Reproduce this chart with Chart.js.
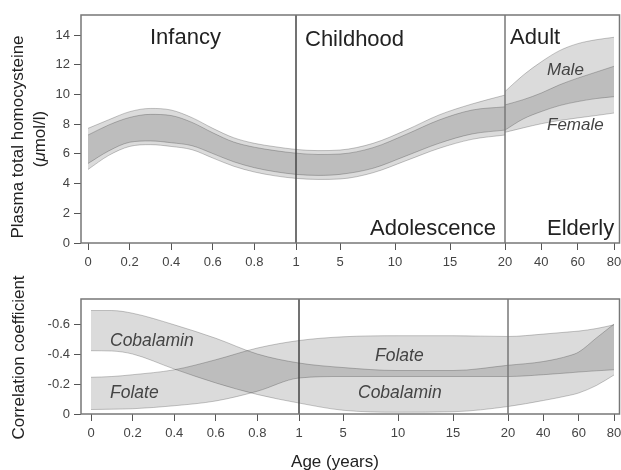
<!DOCTYPE html>
<html>
<head>
<meta charset="utf-8">
<script src="https://cdn.jsdelivr.net/npm/chart.js@4.4.1/dist/chart.umd.min.js"></script>
<style>
  body { margin: 0; background: #fff; }
  #wrap { position: relative; width: 621px; height: 470px; }
  canvas { position: absolute; left: 0; }
</style>
</head>
<body>
<div id="wrap">
  <canvas id="hcy-chart" width="621" height="275" style="top:0px"></canvas>
  <canvas id="corr-chart" width="621" height="195" style="top:275px"></canvas>
</div>
<script>
var FONT = "'Liberation Sans', Arial, Helvetica, sans-serif";
Chart.defaults.font.family = FONT;
Chart.defaults.animation = false;

// age axis is broken in three pieces: 0-1, 1-20, 20-80 years
var ageBreaks = [0, 1, 20, 80];
var xTickAges = [0, 0.2, 0.4, 0.6, 0.8, 1, 5, 10, 15, 20, 40, 60, 80];
var xTickLabels = ['0', '0.2', '0.4', '0.6', '0.8', '1', '5', '10', '15', '20', '40', '60', '80'];

// plasma total homocysteine (umol/l), infancy + childhood
var youthAges = [0, 0.1, 0.2, 0.3, 0.4, 0.5, 0.6, 0.7, 0.8, 0.9, 1, 3, 5, 8, 11, 14, 17, 20];
var maleHighYouth = [7.72, 8.3, 8.84, 9.06, 8.95, 8.44, 7.72, 7.09, 6.71, 6.48, 6.3, 6.22, 6.26, 6.71, 7.6, 8.62, 9.36, 9.96];
var maleLowYouth = [5.35, 6.2, 6.78, 6.87, 6.75, 6.55, 6.02, 5.47, 5.07, 4.8, 4.62, 4.55, 4.62, 5.03, 5.86, 6.71, 7.34, 7.6];
var femaleHighYouth = [7.27, 7.95, 8.45, 8.66, 8.58, 8.12, 7.42, 6.8, 6.45, 6.22, 6.05, 5.96, 5.99, 6.42, 7.31, 8.28, 8.95, 9.17];
var femaleLowYouth = [4.95, 5.9, 6.5, 6.62, 6.5, 6.28, 5.72, 5.17, 4.78, 4.52, 4.35, 4.28, 4.31, 4.73, 5.54, 6.37, 6.98, 7.27];

// adults / elderly
var adultAges = [20, 30, 40, 50, 60, 70, 80];
var maleHighAdult = [10.2, 11.3, 12.2, 12.95, 13.42, 13.68, 13.85];
var maleLowAdult = [7.6, 8.35, 8.85, 9.25, 9.52, 9.72, 9.85];
var femaleHighAdult = [9.3, 9.65, 10.1, 10.65, 11.1, 11.5, 11.9];
var femaleLowAdult = [7.45, 7.75, 8.03, 8.25, 8.42, 8.58, 8.75];

var hcyTicks = [0, 2, 4, 6, 8, 10, 12, 14];

// correlation coefficient with tHcy
var corrAges = [0, 0.1, 0.2, 0.4, 0.6, 0.8, 1, 5, 10, 15, 20, 40, 55, 60, 70, 80];
var cobalaminHigh = [-0.69, -0.69, -0.672, -0.595, -0.505, -0.40, -0.34, -0.31, -0.29, -0.29, -0.325, -0.35, -0.39, -0.413, -0.507, -0.60];
var cobalaminLow = [-0.422, -0.42, -0.40, -0.30, -0.207, -0.13, -0.073, -0.025, -0.012, -0.015, -0.05, -0.09, -0.125, -0.14, -0.19, -0.26];
var folateHigh = [-0.245, -0.25, -0.262, -0.295, -0.362, -0.44, -0.49, -0.515, -0.522, -0.522, -0.517, -0.533, -0.548, -0.553, -0.57, -0.595];
var folateLow = [-0.03, -0.032, -0.035, -0.055, -0.087, -0.152, -0.24, -0.25, -0.25, -0.25, -0.25, -0.262, -0.275, -0.28, -0.288, -0.295];

var corrTicks = [0, -0.1, -0.2, -0.3, -0.4, -0.5, -0.6, -0.7];

// pixel length of each age piece on the two panels
var hcySeg = [0, 208, 417, 526];
var corrSeg = [0, 208, 417, 523];

function agePos(age, seg) {
    for (var i = 0; i < 3; i++) {
        if (age <= ageBreaks[i + 1] || i == 2) {
            var f = (age - ageBreaks[i]) / (ageBreaks[i + 1] - ageBreaks[i]);
            return seg[i] + f * (seg[i + 1] - seg[i]);
        }
    }
}

function points(ages, vals, seg) {
    return ages.map(function(a, i) { return {x: agePos(a, seg), y: vals[i]}; });
}

function band(data, fill) {
    return {
        data: data,
        fill: fill,
        backgroundColor: 'rgba(0,0,0,0.14)',
        borderColor: 'rgba(0,0,0,0.22)',
        borderWidth: 1,
        pointRadius: 0,
        cubicInterpolationMode: 'monotone'
    };
}

// text made of pieces (so the mu can be italic), centred on 0,0
function drawParts(c, parts, size) {
    var total = 0;
    parts.forEach(function(p) {
        c.font = p[1] + size + ' ' + FONT;
        total += c.measureText(p[0]).width;
    });
    var x = -total / 2;
    c.textAlign = 'left';
    parts.forEach(function(p) {
        c.font = p[1] + size + ' ' + FONT;
        c.fillText(p[0], x, 0);
        x += c.measureText(p[0]).width;
    });
}

function framePlugin(seg, texts) {
    return {
        id: 'frame',
        afterDatasetsDraw: function(chart) {
            var c = chart.ctx, a = chart.chartArea, xs = chart.scales.x;
            c.save();
            c.lineWidth = 1.5;
            [[1, '#444'], [20, '#777']].forEach(function(d) {
                var px = xs.getPixelForValue(agePos(d[0], seg));
                c.strokeStyle = d[1];
                c.beginPath();
                c.moveTo(px, a.top);
                c.lineTo(px, a.bottom);
                c.stroke();
            });
            c.strokeStyle = '#777';
            c.strokeRect(a.left, a.top, a.right - a.left, a.bottom - a.top);
            texts.forEach(function(t) {
                c.font = t.f + ' ' + FONT;
                c.fillStyle = t.c || '#222';
                if (t.rot) {
                    c.save();
                    c.translate(t.x, t.y);
                    c.rotate(-Math.PI / 2);
                    c.textBaseline = 'middle';
                    if (t.parts) {
                        drawParts(c, t.parts, t.f);
                    } else {
                        c.textAlign = 'center';
                        c.fillText(t.t, 0, 0);
                    }
                    c.restore();
                } else {
                    c.textAlign = t.align || 'left';
                    c.textBaseline = 'alphabetic';
                    c.fillText(t.t, t.x, t.y);
                }
            });
            c.restore();
        }
    };
}

function xAxis(seg, min, max, height) {
    return {
        type: 'linear',
        min: min,
        max: max,
        afterBuildTicks: function(scale) {
            scale.ticks = xTickAges.map(function(a) { return {value: agePos(a, seg)}; });
        },
        afterFit: function(scale) {
            scale.height = height;
            scale.paddingLeft = 0;
            scale.paddingRight = 0;
        },
        grid: { drawOnChartArea: false, tickLength: 7, tickColor: '#555', tickWidth: 1 },
        border: { display: false },
        ticks: {
            autoSkip: false, maxRotation: 0, padding: 5, color: '#444',
            font: { size: 13 },
            callback: function(v, i) { return xTickLabels[i]; }
        }
    };
}

function yAxis(tickVals, min, max, reverse, label) {
    return {
        min: min,
        max: max,
        reverse: reverse,
        afterBuildTicks: function(scale) {
            scale.ticks = tickVals.map(function(v) { return {value: v}; });
        },
        afterFit: function(scale) {
            scale.width = 81;
            scale.paddingTop = 0;
            scale.paddingBottom = 0;
        },
        grid: { drawOnChartArea: false, tickLength: 7, tickColor: '#555', tickWidth: 1 },
        border: { display: false },
        ticks: { padding: 4, color: '#444', font: { size: 13 }, callback: label }
    };
}

var hcyTexts = [
    {t: 'Infancy', x: 150, y: 44, f: '22px'},
    {t: 'Childhood', x: 305, y: 46, f: '22px'},
    {t: 'Adult', x: 510, y: 44, f: '22px'},
    {t: 'Adolescence', x: 370, y: 235, f: '22px'},
    {t: 'Elderly', x: 547, y: 235, f: '22px'},
    {t: 'Male', x: 547, y: 75, f: 'italic 17px', c: '#444'},
    {t: 'Female', x: 547, y: 130, f: 'italic 17px', c: '#444'},
    {t: 'Plasma total homocysteine', x: 18, y: 137, f: '17px', rot: true},
    {t: '(\u03bcmol/l)', x: 40, y: 139, f: '17px', rot: true,
     parts: [['(', ''], ['\u03bc', 'italic '], ['mol/l)', '']]}
];

var corrTexts = [
    {t: 'Cobalamin', x: 110, y: 71, f: 'italic 17.5px', c: '#444'},
    {t: 'Folate', x: 110, y: 123, f: 'italic 17.5px', c: '#444'},
    {t: 'Folate', x: 375, y: 85.5, f: 'italic 17.5px', c: '#444'},
    {t: 'Cobalamin', x: 358, y: 123, f: 'italic 17.5px', c: '#444'},
    {t: 'Correlation coefficient', x: 19, y: 82.5, f: '17px', rot: true},
    {t: 'Age (years)', x: 335, y: 192, f: '17px', align: 'center'}
];

var hcy_config = {
    type: 'line',
    data: {
        datasets: [
            band(points(youthAges, maleHighYouth, hcySeg), '+1'),
            band(points(youthAges, maleLowYouth, hcySeg), false),
            band(points(youthAges, femaleHighYouth, hcySeg), '+1'),
            band(points(youthAges, femaleLowYouth, hcySeg), false),
            band(points(adultAges, maleHighAdult, hcySeg), '+1'),
            band(points(adultAges, maleLowAdult, hcySeg), false),
            band(points(adultAges, femaleHighAdult, hcySeg), '+1'),
            band(points(adultAges, femaleLowAdult, hcySeg), false)
        ]
    },
    options: {
        responsive: false,
        layout: { padding: { top: 15, right: 1.5, left: 0, bottom: 0 } },
        plugins: { legend: { display: false }, tooltip: { enabled: false } },
        scales: {
            x: xAxis(hcySeg, -7, 531.5, 32),
            y: yAxis(hcyTicks, 0, 15.35, false, function(v) { return String(v); })
        }
    },
    plugins: [framePlugin(hcySeg, hcyTexts)]
};

var corr_config = {
    type: 'line',
    data: {
        datasets: [
            band(points(corrAges, cobalaminHigh, corrSeg), '+1'),
            band(points(corrAges, cobalaminLow, corrSeg), false),
            band(points(corrAges, folateHigh, corrSeg), '+1'),
            band(points(corrAges, folateLow, corrSeg), false)
        ]
    },
    options: {
        responsive: false,
        layout: { padding: { top: 24, right: 1.5, left: 0, bottom: 0 } },
        plugins: { legend: { display: false }, tooltip: { enabled: false } },
        scales: {
            x: xAxis(corrSeg, -10, 528.5, 56),
            y: yAxis(corrTicks, -0.767, 0, true, function(v) {
                var k = Math.round(v * 10);
                if (k % 2 != 0) return '';
                return k == 0 ? '0' : (k / 10).toFixed(1);
            })
        }
    },
    plugins: [framePlugin(corrSeg, corrTexts)]
};

window.onload = function() {
    var hcy_ctx = document.getElementById('hcy-chart').getContext('2d');
    window.hcyChart = new Chart(hcy_ctx, hcy_config);
    var corr_ctx = document.getElementById('corr-chart').getContext('2d');
    window.corrChart = new Chart(corr_ctx, corr_config);
};
</script>
</body>
</html>
